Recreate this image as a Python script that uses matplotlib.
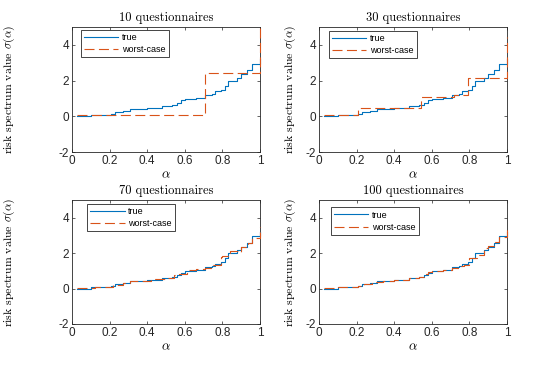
import matplotlib
matplotlib.use("Agg")
import matplotlib.pyplot as plt

plt.rcParams['font.family'] = ['Liberation Sans', 'DejaVu Sans']
plt.rcParams['mathtext.fontset'] = 'cm'

titles = ["10 questionnaires", "30 questionnaires", "70 questionnaires", "100 questionnaires"]

alpha_true = [0.027, 0.10, 0.21, 0.23, 0.27, 0.31, 0.40, 0.48, 0.53, 0.56, 0.58, 0.60,
              0.66, 0.71, 0.745, 0.76, 0.79, 0.815, 0.83, 0.88, 0.90, 0.93, 0.96, 1.0]
sigma_true = [0.0, 0.08, 0.15, 0.23, 0.32, 0.43, 0.49, 0.57, 0.64, 0.75, 0.90, 0.99,
              1.03, 1.20, 1.27, 1.40, 1.50, 1.72, 2.00, 2.15, 2.37, 2.60, 2.94, 3.2]

alpha_wc10 = [0.027, 0.71, 1.0]
sigma_wc10 = [0.10, 2.45, 5.0]

alpha_wc30 = [0.027, 0.21, 0.54, 0.72, 0.79, 1.0]
sigma_wc30 = [0.05, 0.45, 1.08, 1.20, 2.15, 4.45]

alpha_wc70 = [0.027, 0.12, 0.22, 0.27, 0.31, 0.42, 0.50, 0.545, 0.57, 0.61, 0.66, 0.71,
              0.75, 0.79, 0.80, 0.84, 0.885, 0.90, 0.935, 0.96, 1.0]
sigma_wc70 = [0.02, 0.08, 0.18, 0.30, 0.44, 0.53, 0.57, 0.78, 0.85, 1.05, 1.08, 1.18,
              1.33, 1.80, 1.85, 2.10, 2.05, 2.35, 2.60, 2.85, 3.45]

alpha_wc100 = [0.027, 0.10, 0.21, 0.24, 0.28, 0.34, 0.40, 0.48, 0.53, 0.565, 0.58, 0.60,
               0.66, 0.71, 0.755, 0.77, 0.80, 0.82, 0.84, 0.88, 0.90, 0.93, 0.96, 1.0]
sigma_wc100 = [0.01, 0.08, 0.16, 0.25, 0.36, 0.45, 0.50, 0.58, 0.64, 0.80, 0.92, 0.99,
               1.03, 1.18, 1.30, 1.35, 1.75, 1.72, 1.88, 2.30, 2.40, 2.62, 2.92, 3.4]

wc_alpha = [alpha_wc10, alpha_wc30, alpha_wc70, alpha_wc100]
wc_sigma = [sigma_wc10, sigma_wc30, sigma_wc70, sigma_wc100]

xticks = [0, 0.2, 0.4, 0.6, 0.8, 1]
xticklabels = ["0", "0.2", "0.4", "0.6", "0.8", "1"]
yticks = [-2, 0, 2, 4]
yticklabels = ["-2", "0", "2", "4"]

W, H = 560, 365
fig = plt.figure(figsize=(W / 100, H / 100), dpi=100)

# axes boxes in pixels: (left, top, right, bottom)
boxes = [(72, 27, 260, 152), (319, 27, 507, 152), (72, 200, 260, 324), (319, 200, 507, 324)]
leg_pos = [(0.048, 0.978), (0.053, 0.97), (0.08, 0.97), (0.064, 0.94)]
ylabel_x = [-0.29, -0.11, -0.29, -0.11]

blue = '#0072BD'
orange = '#D95319'
axcol = '#262626'

for i in range(4):
    l, t, r, b = boxes[i]
    ax = fig.add_axes([l / W, 1 - b / H, (r - l) / W, (b - t) / H])
    ax.plot(alpha_true, sigma_true, drawstyle='steps-post', color=blue, lw=0.8,
            label='true', clip_on=False, zorder=3)
    ax.plot(wc_alpha[i], wc_sigma[i], drawstyle='steps-post', color=orange, lw=0.8,
            dashes=(9, 4), label='worst-case', clip_on=False, zorder=3)
    ax.set_xlim(0, 1)
    ax.set_ylim(-2, 5)
    ax.set_xticks(xticks)
    ax.set_xticklabels(xticklabels)
    ax.set_yticks(yticks)
    ax.set_yticklabels(yticklabels)
    ax.tick_params(direction='in', length=2.5, width=0.5, colors=axcol, labelsize=8.5,
                   top=True, right=True, pad=2)
    for s in ax.spines.values():
        s.set_color(axcol)
        s.set_linewidth(0.6)
    ax.set_title(titles[i], fontfamily='cmr10', fontsize=9, pad=4)
    ax.set_xlabel(r'$\alpha$', fontsize=9.5, labelpad=2)
    ax.set_ylabel(r'risk spectrum value $\sigma(\alpha)$', fontfamily='cmr10', fontsize=8.5)
    ax.yaxis.set_label_coords(ylabel_x[i], 0.5)
    leg = ax.legend(loc='upper left', bbox_to_anchor=leg_pos[i], borderaxespad=0,
                    fontsize=6.5, handlelength=3.8, handletextpad=0.4, labelspacing=0.35,
                    borderpad=0.35, fancybox=False, framealpha=1, edgecolor=axcol)
    leg.get_frame().set_linewidth(0.6)

fig.savefig('out.png', dpi=100)
